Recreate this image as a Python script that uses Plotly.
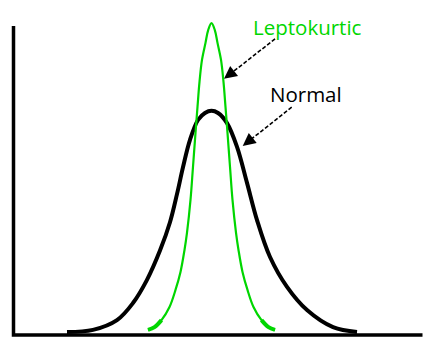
import plotly.graph_objects as go

# Normal curve (black)
normal_x = [-3.613, -2.963, -2.363, -1.963, -1.613, -1.288, -1.038, -0.863, -0.713, -0.538, -0.338, -0.163, 0.0,
            0.163, 0.388, 0.638, 0.888, 1.138, 1.463, 1.888, 2.388, 3.038, 3.638]
normal_y = [0.0, 0.007, 0.039, 0.095, 0.171, 0.267, 0.360, 0.452, 0.540, 0.630, 0.695, 0.718, 0.725,
            0.718, 0.685, 0.607, 0.489, 0.367, 0.246, 0.148, 0.072, 0.016, 0.0]

# Leptokurtic curve (green)
lepto_x = [-1.588, -1.425, -1.25, -1.05, -0.9, -0.775, -0.675, -0.613, -0.525, -0.463, -0.4, -0.35, -0.3, -0.238, -0.15, -0.083, 0.0,
           0.083, 0.15, 0.238, 0.3, 0.35, 0.4, 0.463, 0.525, 0.613, 0.675, 0.775, 0.9, 1.05, 1.25, 1.425, 1.588]
lepto_y = [0.007, 0.016, 0.039, 0.082, 0.138, 0.197, 0.269, 0.325, 0.433, 0.541, 0.653, 0.738, 0.820, 0.892, 0.948, 0.990, 1.013,
           0.990, 0.948, 0.892, 0.820, 0.738, 0.653, 0.541, 0.433, 0.325, 0.269, 0.197, 0.138, 0.082, 0.039, 0.016, 0.007]

# Axis frame (left and bottom)
axis_x = [-4.95, -4.95, 5.275]
axis_y = [1.003, -0.01, -0.01]

# Labels and arrows
labels = ["Leptokurtic", "Normal"]
label_x = [2.41, 2.36]
label_y = [1.0, 0.78]
arrow_start_x = [1.588, 2.005]
arrow_start_y = [0.961, 0.737]
arrow_tip_x = [0.313, 0.78]
arrow_tip_y = [0.83, 0.61]

GREEN = "rgb(0,214,0)"
label_colors = [GREEN, "black"]

fig = go.Figure()
fig.add_trace(go.Scatter(x=axis_x, y=axis_y, mode="lines",
                         line=dict(color="black", width=3.5), hoverinfo="skip"))
fig.add_trace(go.Scatter(x=normal_x, y=normal_y, mode="lines",
                         line=dict(color="black", width=4, shape="spline", smoothing=1.0), hoverinfo="skip"))
fig.add_trace(go.Scatter(x=lepto_x, y=lepto_y, mode="lines",
                         line=dict(color=GREEN, width=2.2, shape="spline", smoothing=1.0), hoverinfo="skip"))
# thicker ends of the green curve
fig.add_trace(go.Scatter(x=lepto_x[:3], y=lepto_y[:3], mode="lines",
                         line=dict(color=GREEN, width=4, shape="spline"), hoverinfo="skip"))
fig.add_trace(go.Scatter(x=lepto_x[-3:], y=lepto_y[-3:], mode="lines",
                         line=dict(color=GREEN, width=4, shape="spline"), hoverinfo="skip"))

for i in range(len(labels)):
    sx, sy = arrow_start_x[i], arrow_start_y[i]
    tx, ty = arrow_tip_x[i], arrow_tip_y[i]
    # dashed shaft
    fig.add_trace(go.Scatter(x=[sx, tx + (sx - tx) * 0.12], y=[sy, ty + (sy - ty) * 0.12], mode="lines",
                             line=dict(color="black", width=1.6, dash="4px,2px"), hoverinfo="skip"))
    # arrow head
    fig.add_annotation(x=tx, y=ty, ax=tx + (sx - tx) * 0.2, ay=ty + (sy - ty) * 0.2,
                       xref="x", yref="y", axref="x", ayref="y", text="",
                       showarrow=True, arrowhead=2, arrowsize=1.6, arrowwidth=1.6, arrowcolor="black")
    fig.add_annotation(x=label_x[i], y=label_y[i], xref="x", yref="y", text=labels[i], showarrow=False,
                       font=dict(family="Open Sans", size=20.5, color=label_colors[i]),
                       xanchor="center", yanchor="middle")

fig.update_layout(
    width=432, height=350,
    margin=dict(l=0, r=0, t=0, b=0),
    paper_bgcolor="white", plot_bgcolor="white",
    showlegend=False,
    xaxis=dict(range=[-5.2875, 5.5125], visible=False, fixedrange=True),
    yaxis=dict(range=[-0.059, 1.0885], visible=False, fixedrange=True),
)

fig.write_html("out.html", config={"displayModeBar": False})
